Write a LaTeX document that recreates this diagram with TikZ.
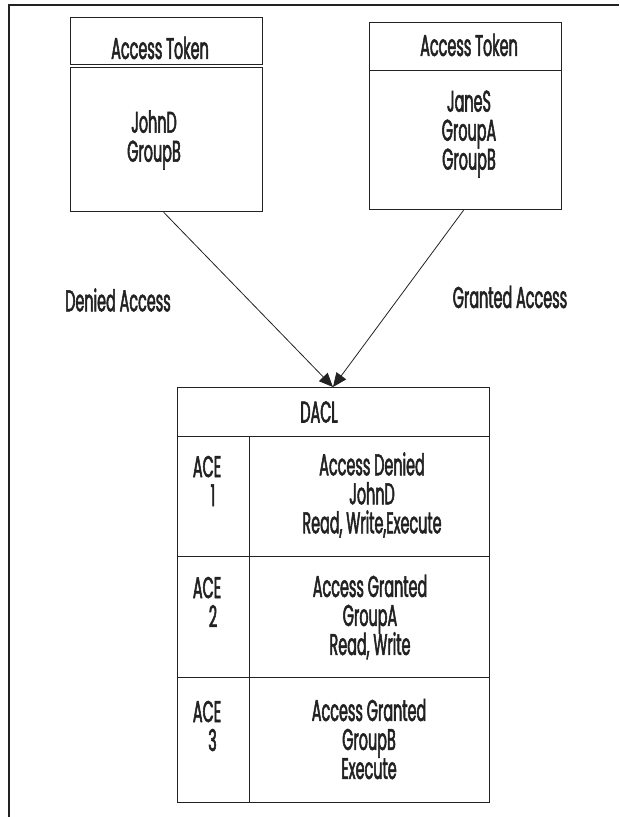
\documentclass[tikz,border=0pt]{standalone}
\usepackage{fontspec}
\setmainfont[FakeStretch=0.48,FakeBold=1.8]{Poppins}
\usetikzlibrary{arrows.meta}
\definecolor{ink}{HTML}{222222}
\newcommand\lblfont{\fontsize{30}{29}\selectfont\lineskiplimit=-50pt\relax}
\begin{document}
\begin{tikzpicture}[x=1pt,y=-1pt,
  box/.style={draw=ink, line width=1.2pt, rectangle, inner sep=0pt, anchor=north west},
  lbl/.style={font=\lblfont, align=center, inner sep=0pt, text=ink},
  conn/.style={draw=ink, line width=0.8pt, -{Triangle[length=14pt,width=12pt]}}]
\useasboundingbox (0,0) rectangle (619,817);
% page frame (top and left edges)
\draw[ink, line width=1.8pt] (619,5) -- (9,5) -- (9,817);

% access token of JohnD
\node[box, minimum width=192pt, minimum height=47pt] (tokAhead) at (70,17) {};
\node[box, minimum width=192pt, minimum height=144pt] (tokAbody) at (70,67) {};
\node[lbl] (tokAtitle) at (160,48) {Access Token};
\node[lbl] (tokAsids) at (154,140) {JohnD\\GroupB};

% access token of JaneS
\node[box, minimum width=192pt, minimum height=48pt] (tokBhead) at (369,22) {};
\node[box, minimum width=192pt, minimum height=139pt] (tokBbody) at (369,70) {};
\node[lbl] (tokBtitle) at (469,45) {Access Token};
\node[lbl] (tokBsids) at (469,134) {JaneS\\GroupA\\GroupB};

% DACL table
\node[box, minimum width=312pt, minimum height=49pt] (daclhead) at (177,387) {};
\node[box, minimum width=72pt, minimum height=120pt] (aceAnum) at (177,436) {};
\node[box, minimum width=240pt, minimum height=120pt] (aceAbody) at (249,436) {};
\node[box, minimum width=72pt, minimum height=121pt] (aceBnum) at (177,556) {};
\node[box, minimum width=240pt, minimum height=121pt] (aceBbody) at (249,556) {};
\node[box, minimum width=72pt, minimum height=125pt] (aceCnum) at (177,677) {};
\node[box, minimum width=240pt, minimum height=125pt] (aceCbody) at (249,677) {};

\node[lbl] (dacltitle) at (319,412) {DACL};

\node[lbl] (aceAid) at (207,481) {ACE\\\hspace*{12pt}1};
\node[lbl] (aceAtext) at (372,495) {Access Denied\\JohnD\\Read, Write,Execute};

\node[lbl] (aceBid) at (207,602) {ACE\\\hspace*{12pt}2};
\node[lbl] (aceBtext) at (370,617) {Access Granted\\GroupA\\Read, Write};

\node[lbl] (aceCid) at (207,726) {ACE\\\hspace*{11pt}3};
\node[lbl] (aceCtext) at (369,739) {Access Granted\\GroupB\\Execute};

% access checks
\coordinate (dacltop) at (333,387);
\node[lbl] (deniedlbl) at (118,300) {Denied Access};
\node[lbl] (grantedlbl) at (510,297) {Granted Access};
\draw[conn] ([xshift=-3pt]tokAbody.south) -- (dacltop);
\draw[conn] ([xshift=-2pt]tokBbody.south) -- (dacltop);
\end{tikzpicture}
\end{document}
